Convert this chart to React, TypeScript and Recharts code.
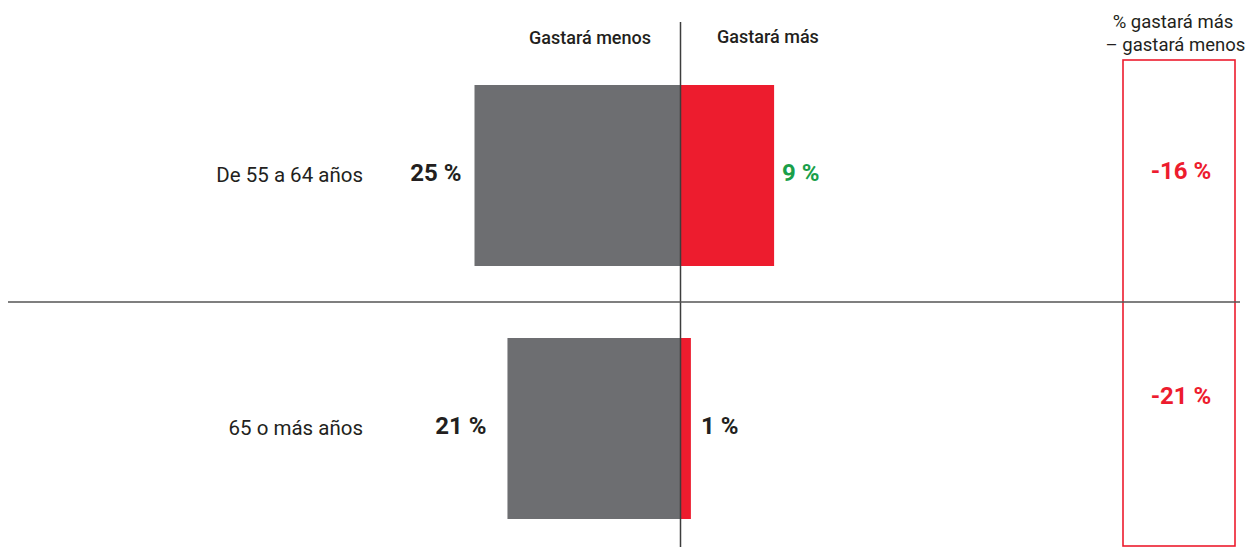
import React from 'react';
import { BarChart, Bar, XAxis, YAxis, ReferenceLine, LabelList, Customized } from 'recharts';

const categories = ['De 55 a 64 años', '65 o más años'];
const gastaraMenos = [25, 21];
const gastaraMas = [9, 1];
const diferencia = [-16, -21];
const headerMenos = 'Gastará menos';
const headerMas = 'Gastará más';
const headerDiff = ['% gastará más', '– gastará menos'];

const data = categories.map((c, i) => ({
  cat: c,
  menos: -gastaraMenos[i],
  mas: gastaraMas[i],
  diff: diferencia[i],
}));

const FONT = 'Roboto, sans-serif';
const GRAY = '#6d6e71';
const RED = '#ed1c2e';
const GREEN = '#1a9f4a';
const DARK = '#231f20';

const W = 1250;
const H = 555;
const PLOT_L = 8;
const PLOT_R = 1240;
const ZERO_X = 680.5;
const LEFT_PX = 8.24;
const RIGHT_PX = 10.4;
const domA = [-(ZERO_X - PLOT_L) / LEFT_PX, (PLOT_R - ZERO_X) / LEFT_PX];
const domB = [-(ZERO_X - PLOT_L) / RIGHT_PX, (PLOT_R - ZERO_X) / RIGHT_PX];
const GRAY_GAP = [13, 21];
const RED_GAP = [8, 10];
const DIFF_DY = [3, -25];
const RED_LABEL_COLOR = [GREEN, DARK];

const CatTick = (props: any) => {
  const { y, payload } = props;
  return (
    <text x={363} y={y + 6} textAnchor="end" fontFamily={FONT} fontSize={20.5} fill={DARK}>
      {payload.value}
    </text>
  );
};

const GrayLabel = (props: any) => {
  const { x, y, width, height, value, index } = props;
  const left = Math.min(x, x + width);
  return (
    <text x={left - GRAY_GAP[index]} y={y + height / 2 + 5} textAnchor="end" fontFamily={FONT} fontWeight={700} fontSize={24} fill={DARK}>
      {`${Math.abs(value)} %`}
    </text>
  );
};

const RedLabel = (props: any) => {
  const { x, y, width, height, value, index } = props;
  const right = Math.max(x, x + width);
  return (
    <text x={right + RED_GAP[index]} y={y + height / 2 + 5} textAnchor="start" fontFamily={FONT} fontWeight={700} fontSize={24} fill={RED_LABEL_COLOR[index]}>
      {`${value} %`}
    </text>
  );
};

const DiffLabel = (props: any) => {
  const { y, height, value, index } = props;
  return (
    <text x={1181} y={y + height / 2 + DIFF_DY[index]} textAnchor="middle" fontFamily={FONT} fontWeight={700} fontSize={24} fill={RED}>
      {`${value} %`}
    </text>
  );
};

const Decor = () => (
  <g>
    <text x={590} y={44} textAnchor="middle" fontFamily={FONT} fontWeight={500} fontSize={18} fill={DARK}>{headerMenos}</text>
    <text x={768} y={43} textAnchor="middle" fontFamily={FONT} fontWeight={500} fontSize={18} fill={DARK}>{headerMas}</text>
    <text x={1173} y={28} textAnchor="middle" fontFamily={FONT} fontSize={18.5} fill={DARK}>{headerDiff[0]}</text>
    <text x={1175.5} y={51} textAnchor="middle" fontFamily={FONT} fontSize={18.5} fill={DARK}>{headerDiff[1]}</text>
    <rect x={1123} y={60} width={112} height={486} fill="none" stroke={RED} strokeWidth={1.6} />
  </g>
);

export default function App() {
  return (
    <div style={{ position: 'absolute', left: 0, top: 0, width: 1250, height: 547, overflow: 'hidden', background: '#fff', fontFamily: FONT }}>
      <BarChart
        width={W}
        height={H}
        data={data}
        layout="vertical"
        margin={{ top: 22, right: W - PLOT_R, bottom: 0, left: PLOT_L }}
      >
        <XAxis xAxisId="a" type="number" domain={domA} hide allowDataOverflow />
        <XAxis xAxisId="b" type="number" domain={domB} hide allowDataOverflow />
        <YAxis
          yAxisId="a"
          type="category"
          dataKey="cat"
          padding={{ top: 27, bottom: 0 }}
          mirror
          axisLine={false}
          tickLine={false}
          tick={<CatTick />}
        />
        <YAxis yAxisId="b" type="category" dataKey="cat" padding={{ top: 27, bottom: 0 }} hide />
        <Bar xAxisId="a" yAxisId="a" dataKey="menos" fill={GRAY} barSize={181} isAnimationActive={false}>
          <LabelList dataKey="menos" content={<GrayLabel />} />
        </Bar>
        <Bar xAxisId="b" yAxisId="b" dataKey="mas" fill={RED} barSize={181} isAnimationActive={false}>
          <LabelList dataKey="mas" content={<RedLabel />} />
          <LabelList dataKey="diff" content={<DiffLabel />} />
        </Bar>
        <ReferenceLine xAxisId="a" yAxisId="a" x={0} stroke="#3d3d3d" strokeWidth={1.5} />
        <ReferenceLine xAxisId="a" yAxisId="a" y={categories[1]} position="start" stroke="#555" strokeWidth={1.3} />
        <Customized component={<Decor />} />
      </BarChart>
    </div>
  );
}
